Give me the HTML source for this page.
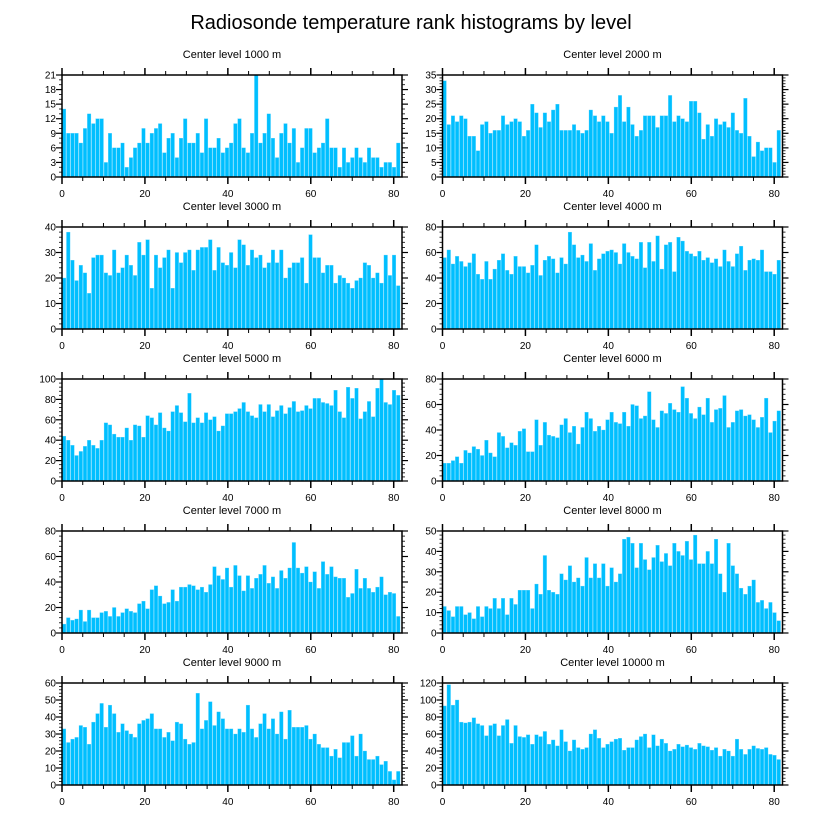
<!DOCTYPE html>
<html><head><meta charset="utf-8"><style>
html,body{margin:0;padding:0;background:#fff;}
svg{display:block;font-family:"Liberation Sans",sans-serif;}
</style></head><body>
<svg id="chart" width="822" height="824" viewBox="0 0 822 824">
<text x="411" y="29" text-anchor="middle" font-size="20">Radiosonde temperature rank histograms by level</text>
</svg>
<script>
const levels = ["1000","2000","3000","4000","5000","6000","7000","8000","9000","10000"];
const yMaxes = [21,35,40,80,100,80,80,50,60,120];
const yStepsMajor = [3,5,10,20,20,20,20,10,10,20];
const xTickLabels = [0,20,40,60,80];
const counts1000 = [14,9,9,9,7,10,13,11,12,12,3,9,6,6,7,2,4,6,7,10,7,9,10,11,5,8,9,4,8,12,7,7,9,5,12,6,6,8,5,6,7,11,12,6,5,9,21,7,9,13,8,4,9,11,7,10,3,6,10,10,5,6,7,12,6,6,2,6,3,4,6,4,3,6,4,4,2,3,3,2,7];
const counts2000 = [33,18,21,19,21,20,14,14,9,18,19,15,16,16,21,18,19,20,19,14,16,25,22,17,22,19,23,25,16,16,16,18,16,15,16,23,21,19,21,19,15,24,28,19,24,18,14,16,21,21,21,17,21,21,28,19,21,20,19,26,26,22,13,18,14,20,18,19,17,22,16,15,27,14,7,12,9,10,10,5,16];
const counts3000 = [20,38,27,19,25,22,14,28,29,29,22,21,31,22,24,29,25,21,34,29,35,16,29,24,28,31,16,30,26,30,31,23,31,32,32,35,23,32,26,25,30,24,35,33,25,31,28,29,24,26,31,26,31,20,24,26,26,28,18,37,28,28,22,25,25,18,21,20,18,16,19,20,26,25,20,22,18,29,21,29,17];
const counts4000 = [56,62,51,57,53,49,52,59,43,39,53,39,47,54,59,46,43,57,49,49,44,50,66,42,54,57,55,44,56,51,76,66,56,58,53,67,46,55,59,61,62,60,51,67,60,57,55,68,48,68,53,73,47,66,68,45,72,69,61,59,57,61,54,56,52,55,49,62,53,49,59,65,46,54,55,54,62,45,45,43,54];
const counts5000 = [44,40,35,25,29,34,40,35,32,40,57,55,46,43,43,52,40,55,54,43,64,62,55,67,52,49,68,74,67,58,86,57,62,57,67,60,63,49,54,66,66,68,71,77,68,64,62,75,68,75,63,69,74,66,72,78,68,69,74,71,81,81,77,76,74,89,68,62,92,81,91,61,68,78,63,91,100,77,75,89,84];
const counts6000 = [14,14,16,19,14,24,22,27,25,20,32,22,19,38,35,26,30,28,39,41,23,23,48,28,46,36,35,34,44,49,38,43,29,42,54,49,39,43,40,48,54,46,45,54,43,60,59,49,51,70,48,42,55,53,61,56,54,74,65,53,49,58,52,65,46,56,57,67,42,46,55,56,51,52,48,42,50,65,38,47,55];
const counts7000 = [7,12,10,11,18,9,18,12,12,16,17,13,20,13,16,19,17,16,23,25,19,34,37,29,23,24,34,25,36,36,38,37,34,36,32,38,52,45,42,51,36,53,45,33,45,35,43,46,53,39,44,35,49,43,51,71,51,47,52,40,48,35,56,46,52,44,43,43,28,31,50,35,43,35,32,36,44,30,32,31,13];
const counts8000 = [13,11,8,13,13,9,10,7,13,8,13,12,17,12,17,9,17,14,21,21,21,12,24,19,38,21,20,19,29,26,33,25,27,23,37,27,34,27,34,23,32,25,29,46,47,44,32,44,36,31,37,43,35,39,33,44,40,38,45,36,48,34,34,40,34,46,29,20,44,33,29,22,19,23,26,15,16,12,15,10,6];
const counts9000 = [33,25,27,28,35,34,24,37,42,48,34,47,42,31,36,32,30,28,36,38,39,42,33,33,28,31,26,37,36,27,24,25,54,33,38,49,35,43,39,33,33,30,33,31,47,33,28,36,42,33,39,30,43,27,44,34,34,34,35,27,30,24,22,22,17,21,16,25,25,29,17,30,20,15,15,17,12,14,8,3,8];
const counts10000 = [93,118,94,100,74,73,74,79,72,70,58,70,72,58,70,77,49,70,57,56,59,48,59,57,63,48,53,46,65,51,40,53,44,42,44,60,65,55,44,48,51,54,55,41,44,44,53,57,60,44,59,46,54,49,40,42,48,45,47,44,42,49,46,45,41,44,34,42,40,34,54,42,36,42,46,43,42,44,36,35,30];
const allCounts = [counts1000,counts2000,counts3000,counts4000,counts5000,counts6000,counts7000,counts8000,counts9000,counts10000];

const NS = "http://www.w3.org/2000/svg";
const svg = document.getElementById("chart");
function mk(tag, attrs, parent) {
  const e = document.createElementNS(NS, tag);
  for (const k in attrs) e.setAttribute(k, attrs[k]);
  parent.appendChild(e);
  return e;
}
const XMAX = 82, PW = 340, PH = 102;
for (let p = 0; p < 10; p++) {
  const col = p % 2, row = Math.floor(p / 2);
  const x0 = col === 0 ? 62 : 442.5;
  const y0 = 75 + row * 152;
  const data = allCounts[p], ymax = yMaxes[p], step = yStepsMajor[p];
  const xs = v => x0 + v / XMAX * PW;
  const ys = v => y0 + PH - v / ymax * PH;
  const g = mk("g", {}, svg);
  
  
  const t = mk("text", {x: x0 + PW / 2, y: y0 - 17, "text-anchor": "middle", "font-size": "11"}, g);
  t.textContent = "Center level " + levels[p] + " m";
  
  
  const bw = 81.6 / data.length;
  data.forEach((v, i) => {
    const r = mk("rect", {x: xs(i * bw) + 0.3, y: ys(v), width: Math.max(0.5, xs(bw) - x0 - 0.6), height: ys(0) - ys(v), fill: "#00bfff", stroke: "#5fd4ff", "stroke-width": "0.3"}, g);
    
    
  });
  // x ticks
  for (let v = 0; v <= 80; v += 5) {
    const major = v % 20 === 0, len = major ? 7 : 4;
    mk("line", {x1: xs(v), x2: xs(v), y1: y0 + PH, y2: y0 + PH + len, stroke: "#000", "stroke-width": major ? 1.5 : 1}, g);
    mk("line", {x1: xs(v), x2: xs(v), y1: y0, y2: y0 - len, stroke: "#000", "stroke-width": major ? 1.5 : 1}, g);
  }
  xTickLabels.forEach(v => {
    const tl = mk("text", {x: xs(v), y: y0 + PH + 20, "text-anchor": "middle", "font-size": "10"}, g);
    tl.textContent = v;
    
    
  });
  // y ticks
  const minorN = step === 3 ? 3 : 5;
  for (let k = 0; k <= ymax / step * minorN + 1e-9; k++) {
    const v = k * step / minorN;
    const major = k % minorN === 0, len = major ? 6 : 3;
    mk("line", {x1: x0, x2: x0 - len, y1: ys(v), y2: ys(v), stroke: "#000", "stroke-width": major ? 1.2 : 0.8}, g);
    mk("line", {x1: x0 + PW, x2: x0 + PW + len, y1: ys(v), y2: ys(v), stroke: "#000", "stroke-width": major ? 1.2 : 0.8}, g);
  }
  for (let v = 0; v <= ymax + 1e-9; v += step) {
    const tl = mk("text", {x: x0 - 6, y: ys(v) + 3.5, "text-anchor": "end", "font-size": "10"}, g);
    tl.textContent = v;
    
    
  }
  const fr = mk("rect", {x: x0, y: y0, width: PW, height: PH, fill: "none", stroke: "#000", "stroke-width": "1.5"}, g);
  
  
}
</script>
</body></html>
